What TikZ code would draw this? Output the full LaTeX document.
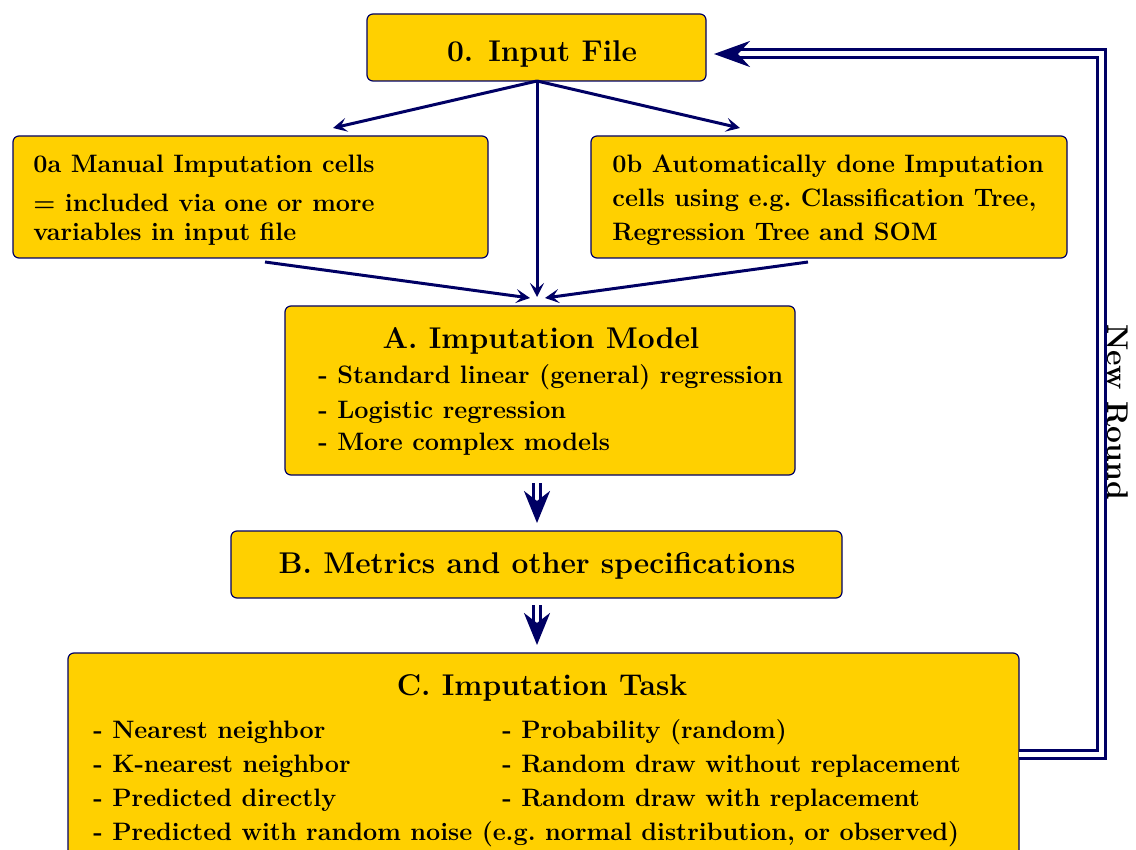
\documentclass[tikz,border=0pt]{standalone}
\usetikzlibrary{arrows.meta}
\definecolor{boxy}{RGB}{255,208,0}
\definecolor{navyc}{RGB}{0,0,100}
\begin{document}
\begin{tikzpicture}[x=0.5pt,y=-0.5pt,
  box/.style={draw=navyc, line width=0.6pt, fill=boxy, rounded corners=3pt, inner sep=0pt},
  tl/.style={anchor=base west, inner sep=0pt, font=\fontsize{12.6}{15}\selectfont\bfseries},
  tc/.style={anchor=base, inner sep=0pt, font=\fontsize{15}{18}\selectfont\bfseries},
  arr/.style={navyc, line width=1.5pt, -{Stealth[length=7pt,width=7pt,inset=3pt]}},
  dblarr/.style={navyc, line width=1.5pt, double=white, double distance=2pt, -{Stealth[length=16pt,width=13pt,inset=5pt]}},
  ret/.style={navyc, line width=1.5pt, double=white, double distance=2.5pt, -{Stealth[length=18pt,width=13pt,inset=6pt]}}]
\useasboundingbox (0,0) rectangle (1136,850);
\clip (0,0) rectangle (1136,850);
% boxes
\node[box, minimum width=169.5pt, minimum height=33.5pt] (in) at (536.5,47.5) {};
\node[box, minimum width=237.5pt, minimum height=61pt] (ma) at (250.5,197) {};
\node[box, minimum width=238pt, minimum height=61pt] (au) at (829,197) {};
\node[box, minimum width=255pt, minimum height=84.5pt] (im) at (540,390.5) {};
\node[box, minimum width=305.5pt, minimum height=33.5pt] (me) at (536.5,564.5) {};
\node[box, minimum width=475.5pt, minimum height=125pt] (ta) at (543.5,778) {};
% texts
\node[tc] (tin) at (542,62) {0. Input File};
\node[tl] (ma1) at (33,173) {0a Manual Imputation cells};
\node[tl] (ma2) at (33,212) {= included via one or more};
\node[tl] (ma3) at (33,241) {variables in input file};
\node[tl] (au1) at (612,173) {0b Automatically done Imputation};
\node[tl] (au2) at (612,207) {cells using e.g.\ Classification Tree,};
\node[tl] (au3) at (612,241) {Regression Tree and SOM};
\node[tc] (tim) at (541,349) {A. Imputation Model};
\node[tl] (im1) at (318,384) {- Standard linear (general) regression};
\node[tl] (im2) at (318,418) {- Logistic regression};
\node[tl] (im3) at (318,451) {- More complex models};
\node[tc] (tme) at (537,573) {B. Metrics and other specifications};
\node[tc] (tta) at (542,695) {C. Imputation Task};
\node[tl] (ta1) at (93,738) {- Nearest neighbor};
\node[tl] (ta2) at (93,772) {- K-nearest neighbor};
\node[tl] (ta3) at (93,806) {- Predicted directly};
\node[tl] (ta4) at (93,840) {- Predicted with random noise (e.g.\ normal distribution, or observed)};
\node[tl] (ta5) at (502,738) {- Probability (random)};
\node[tl] (ta6) at (502,772) {- Random draw without replacement};
\node[tl] (ta7) at (502,806) {- Random draw with replacement};
\node[anchor=center, rotate=-90, inner sep=0pt, font=\fontsize{15}{18}\selectfont\bfseries] (nr) at (1118,412) {New Round};
% connector coordinates
\coordinate (inb) at (537,81);
\coordinate (mat) at (333,128);
\coordinate (aut) at (740,128);
\coordinate (mab) at (265,262);
\coordinate (aub) at (808,262);
\coordinate (imt) at (537,297);
\coordinate (imtl) at (530,298);
\coordinate (imtr) at (545,298);
\coordinate (imb) at (537,483);
\coordinate (met) at (537,523);
\coordinate (meb) at (537,605);
\coordinate (tat) at (537,645);
\coordinate (tar) at (1019,754);
\coordinate (c1) at (1101,754);
\coordinate (c2) at (1101,54);
\coordinate (inr) at (714,54);
% connectors
\draw[arr] (inb) -- (mat);
\draw[arr] (inb) -- (aut);
\draw[arr] (inb) -- (imt);
\draw[arr] (mab) -- (imtl);
\draw[arr] (aub) -- (imtr);
\draw[dblarr] (imb) -- (met);
\draw[dblarr] (meb) -- (tat);
\draw[ret] (tar) -- (c1) -- (c2) -- (inr);
\end{tikzpicture}
\end{document}
